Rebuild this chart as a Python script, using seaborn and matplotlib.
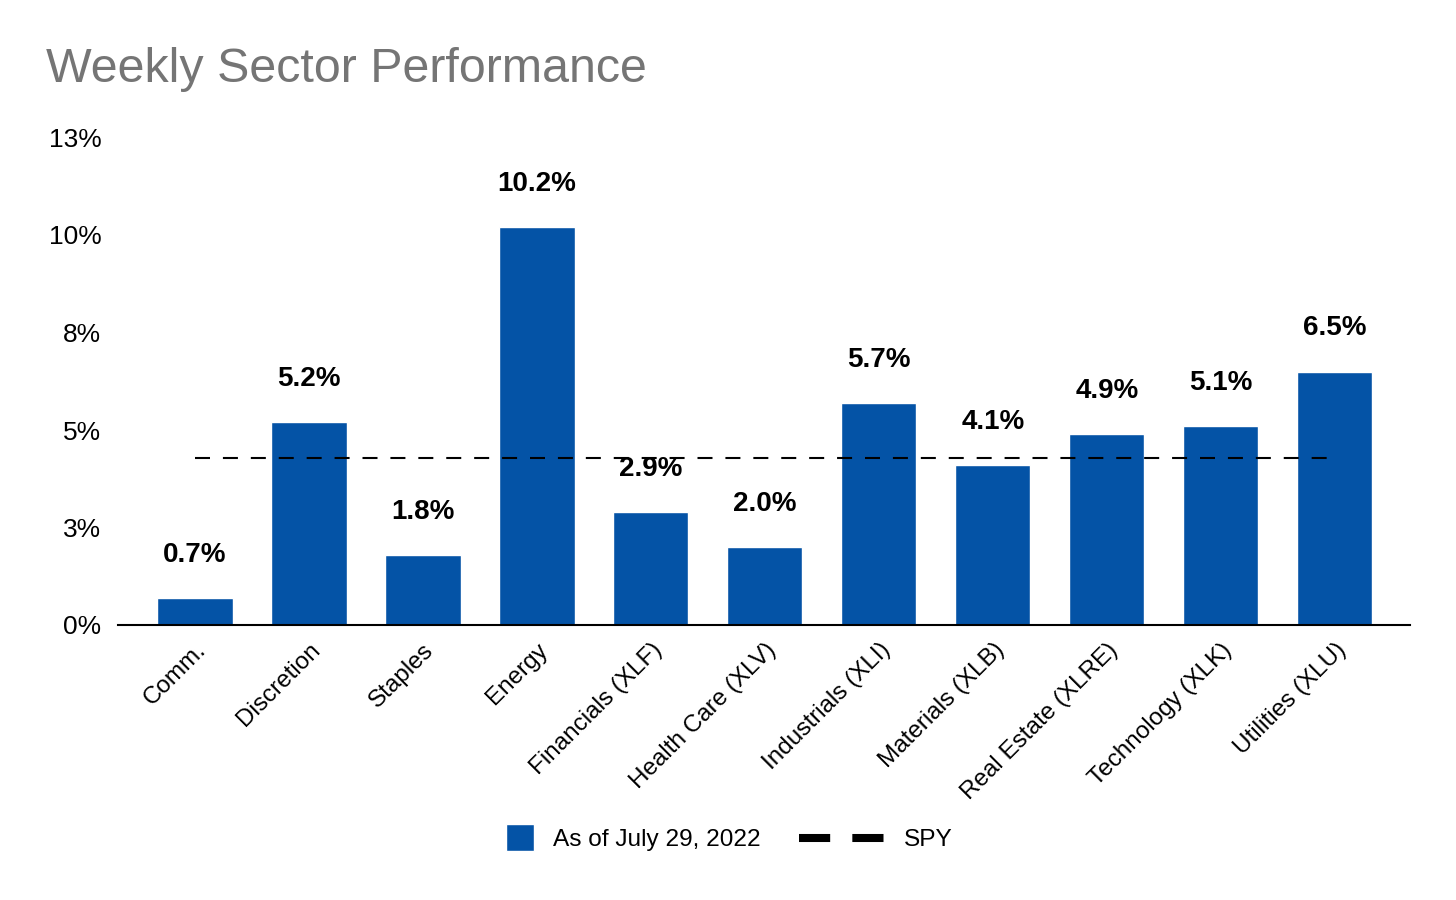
import numpy as np
import pandas as pd
import matplotlib
matplotlib.use("Agg")
import matplotlib.pyplot as plt
import seaborn as sns
from matplotlib.patches import Rectangle, Patch
from matplotlib.lines import Line2D
from matplotlib.legend_handler import HandlerPatch

sectors = ["Comm.", "Discretion", "Staples", "Energy", "Financials (XLF)",
           "Health Care (XLV)", "Industrials (XLI)", "Materials (XLB)",
           "Real Estate (XLRE)", "Technology (XLK)", "Utilities (XLU)"]
weekly_pct = [0.7, 5.2, 1.8, 10.2, 2.9, 2.0, 5.7, 4.1, 4.9, 5.1, 6.5]
spy_pct = 4.28
ytick_vals = [0, 2.5, 5, 7.5, 10, 12.5]
ytick_labels = ["0%", "3%", "5%", "8%", "10%", "13%"]

bar_color = "#0453A6"

sns.set_theme(style="white")
plt.rcParams['font.family'] = ['Liberation Sans', 'DejaVu Sans']
plt.rcParams['text.color'] = 'black'

df = pd.DataFrame({"Sector": sectors, "Pct": weekly_pct})

fig = plt.figure(figsize=(14.56, 9), dpi=100)
ax = fig.add_axes([118/1456, 1-625/900, (1410-118)/1456, (625-137.5)/900])

sns.barplot(data=df, x="Sector", y="Pct", color=bar_color, saturation=1,
            width=0.66, ax=ax)

# value labels above each bar
for i, v in enumerate(weekly_pct):
    ax.annotate(f"{v:.1f}%", (i, v), xytext=(0, 31), textcoords="offset points",
                ha="center", va="center", fontsize=20, fontweight="bold", color="black")

# SPY reference line
ax.hlines(spy_pct, 0, len(sectors)-1, colors="black", linewidth=1.5,
          linestyles=(0, (7.2, 6.2)))

ax.set_xlim(-0.675, len(sectors)-1+0.66)
ax.set_ylim(0, 12.5)
ax.set_yticks(ytick_vals)
ax.set_yticklabels(ytick_labels)
ax.tick_params(axis="y", length=0, pad=12, labelsize=19, labelcolor="black")
ax.tick_params(axis="x", length=0, pad=10, labelsize=17.5, labelcolor="black")
for lbl in ax.get_xticklabels():
    lbl.set_rotation(45)
    lbl.set_ha("right")
    lbl.set_va("top")
    lbl.set_rotation_mode("anchor")
ax.set_xlabel("")
ax.set_ylabel("")
for s in ["top", "right", "left"]:
    ax.spines[s].set_visible(False)
ax.spines["bottom"].set_color("black")
ax.spines["bottom"].set_linewidth(1.5)
ax.grid(False)

fig.text(46/1456, 1-70/900, "Weekly Sector Performance", fontsize=34.8,
         color="#757575", ha="left", va="center")


# legend: square swatch right-aligned inside the handle area
def square_patch(legend, orig_handle, xdescent, ydescent, width, height, fontsize):
    s = 20
    return Rectangle((-xdescent + width - s, -ydescent + height/2 - s/2), s, s)


h_bar = Patch(facecolor=bar_color, label="As of July 29, 2022")
h_spy = Line2D([], [], color="black", linewidth=5.8,
               dashes=(3.87, 2.75), label="SPY")
leg = fig.legend(handles=[h_bar, h_spy], loc="center left",
                 bbox_to_anchor=(426/1456, 1-840/900), ncol=2, frameon=False,
                 fontsize=17.6, handlelength=3.5, handletextpad=0.8,
                 columnspacing=1.55,
                 handler_map={Patch: HandlerPatch(patch_func=square_patch)})
for t in leg.get_texts():
    t.set_color("black")

fig.savefig("out.png", dpi=100, facecolor="white")
